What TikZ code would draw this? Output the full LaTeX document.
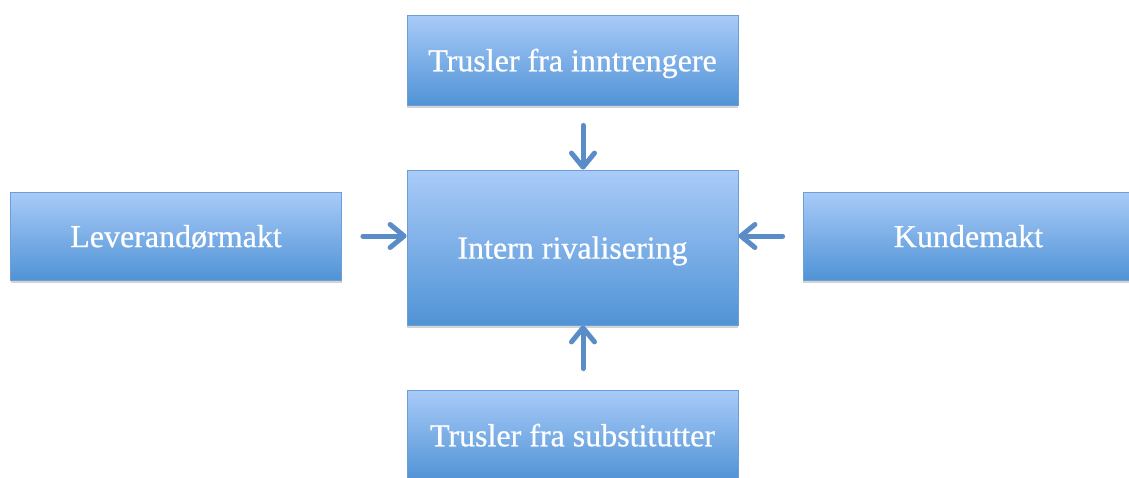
\documentclass[tikz,border=0pt]{standalone}
\usepackage{fontspec}
\setmainfont{Liberation Serif}
\newfontfamily\forcefont[FakeBold=0.6]{Liberation Serif}
\usetikzlibrary{arrows.meta,shadows}

\definecolor{boxtop}{HTML}{A9CBF8}
\definecolor{boxbot}{HTML}{5093D6}
\definecolor{boxedge}{HTML}{6E9ED6}
\definecolor{arrowblue}{HTML}{5A8DC8}

\tikzset{
  force/.style={draw=boxedge, line width=.8pt, top color=boxtop, bottom color=boxbot,
    text=white, font=\forcefont\fontsize{32}{35}\selectfont,
    minimum width=331pt, inner sep=0pt, text depth=0pt,
    drop shadow={shadow xshift=0pt, shadow yshift=-3pt, opacity=.35}},
  push/.style={draw=arrowblue, line width=5pt, line cap=round,
    -{Straight Barb[length=14pt,width=23pt,line width=5pt,round]}}
}

\begin{document}
\begin{tikzpicture}[x=1pt,y=-1pt]
\useasboundingbox (0,0) rectangle (1129,477);

\node[force, minimum height=90pt] (entrants) at (572.5,60) {Trusler fra inntrengere};
\node[force, minimum height=155pt] (rivalry) at (572.5,247.5) {Intern rivalisering};
\node[force, minimum height=88pt] (suppliers) at (176,236) {Leverandørmakt};
\node[force, minimum height=88pt] (buyers) at (968.5,236) {Kundemakt};
\node[force, minimum height=90pt] (substitutes) at (572.5,435) {Trusler fra substitutter};

% arrows into the middle box
\draw[push, shorten <=20pt] ([xshift=10.5pt]entrants.south) -- ([xshift=10.5pt]entrants.south |- rivalry.north);
\draw[push, shorten <=21pt] (suppliers.east) -- (suppliers.east -| rivalry.west);
\draw[push, shorten <=20pt] (buyers.west) -- (buyers.west -| rivalry.east);
\draw[push, shorten <=21pt] ([xshift=10.5pt]substitutes.north) -- ([xshift=10.5pt]substitutes.north |- rivalry.south);
\end{tikzpicture}
\end{document}
